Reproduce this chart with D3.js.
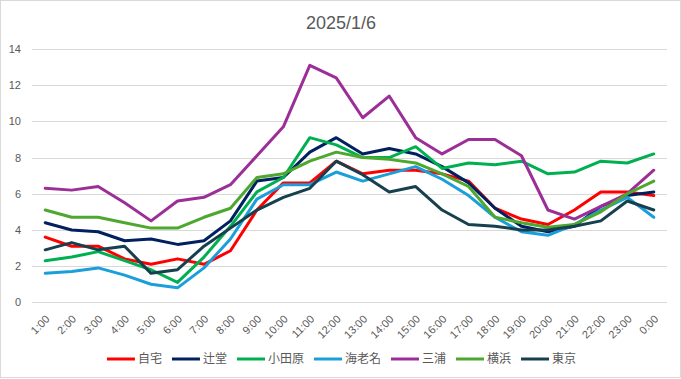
<!DOCTYPE html>
<html><head><meta charset="utf-8">
<script src="https://cdn.jsdelivr.net/npm/d3@7"></script>
<style>
html,body{margin:0;padding:0;background:#fff;}
svg{display:block;}
</style></head>
<body>
<script>
const title = "2025/1/6";
const hours = ["1:00","2:00","3:00","4:00","5:00","6:00","7:00","8:00","9:00","10:00","11:00","12:00","13:00","14:00","15:00","16:00","17:00","18:00","19:00","20:00","21:00","22:00","23:00","0:00"];
const yTicks = [0,2,4,6,8,10,12,14];
const seriesNames = ["自宅","辻堂","小田原","海老名","三浦","横浜","東京"];
const seriesColors = ["#FF0000","#002060","#00B050","#1A9FDB","#9B2F97","#4EA72E","#17404F"];
const jitaku   = [3.6,3.1,3.1,2.4,2.1,2.4,2.1,2.85,5.1,6.6,6.6,7.8,7.1,7.3,7.3,7.1,6.7,5.2,4.6,4.3,5.1,6.1,6.1,5.9];
const tsujido  = [4.4,4.0,3.9,3.4,3.5,3.2,3.4,4.5,6.7,6.9,8.3,9.1,8.2,8.5,8.2,7.5,6.6,5.2,4.2,3.9,4.2,5.3,5.9,6.1];
const odawara  = [2.3,2.5,2.8,2.3,1.8,1.1,2.5,4.2,6.1,6.9,9.1,8.7,8.0,8.0,8.6,7.4,7.7,7.6,7.8,7.1,7.2,7.8,7.7,8.2];
const ebina    = [1.6,1.7,1.9,1.5,1.0,0.8,1.9,3.5,5.7,6.5,6.5,7.2,6.7,7.1,7.5,6.8,5.9,4.7,3.9,3.7,4.3,5.1,5.8,4.7];
const miura    = [6.3,6.2,6.4,5.5,4.5,5.6,5.8,6.5,8.1,9.7,13.1,12.4,10.2,11.4,9.1,8.2,9.0,9.0,8.1,5.1,4.6,5.3,6.0,7.3];
const yokohama = [5.1,4.7,4.7,4.4,4.1,4.1,4.7,5.2,6.9,7.1,7.8,8.3,8.0,7.9,7.7,7.1,6.4,4.7,4.4,4.15,4.3,5.0,6.0,6.7];
const tokyo    = [2.9,3.3,2.9,3.1,1.6,1.8,3.1,4.1,5.1,5.8,6.3,7.8,7.05,6.1,6.4,5.1,4.3,4.2,4.0,4.0,4.2,4.5,5.6,5.1];
const seriesValues = [jitaku,tsujido,odawara,ebina,miura,yokohama,tokyo];

const W = 681, H = 379;
const numFont = "'Liberation Sans', Arial, sans-serif";
const jpFont = "'Noto Sans CJK JP', sans-serif";
const textColor = "#595959";

const svg = d3.select("body").append("svg").attr("width", W).attr("height", H);
svg.append("rect").attr("x",0.5).attr("y",0.5).attr("width",W-1).attr("height",H-2)
  .attr("fill","#fff").attr("stroke","#D9D9D9");

const x = d3.scalePoint().domain(hours).range([32, 667]).padding(0.5);
const y = d3.scaleLinear().domain([0,14]).range([302.3, 49]);

svg.append("text").attr("x", 341).attr("y", 29).attr("text-anchor","middle")
  .attr("font-family", numFont).attr("font-size", 18).attr("fill", textColor).text(title);

// gridlines
svg.append("g").selectAll("line").data(yTicks).join("line")
  .attr("x1",32).attr("x2",667).attr("y1",d=>Math.round(y(d))+0.5).attr("y2",d=>Math.round(y(d))+0.5)
  .attr("stroke","#D9D9D9").attr("stroke-width",1);

// y axis labels
const yAxis = d3.axisLeft(y).tickValues(yTicks).tickSize(0).tickPadding(0);
const gy = svg.append("g").attr("transform","translate(21,0)").call(yAxis);
gy.select(".domain").remove();
gy.selectAll("text").attr("font-family", numFont).attr("font-size", 11).attr("fill", textColor);

// x axis labels
const xAxis = d3.axisBottom(x).tickSize(0).tickPadding(0);
const gx = svg.append("g").attr("transform","translate(0,302)").call(xAxis);
gx.select(".domain").remove();
gx.selectAll("text")
  .attr("font-family", numFont).attr("font-size", 11).attr("fill", textColor)
  .attr("text-anchor","end").attr("dy","0.35em").attr("y",0)
  .attr("transform","translate(2,15) rotate(-45)");

// lines
const line = d3.line().x((d,i)=>x(hours[i])).y(d=>y(d));
svg.append("g").selectAll("path").data(seriesValues).join("path")
  .attr("d", line).attr("fill","none")
  .attr("stroke",(d,i)=>seriesColors[i]).attr("stroke-width",3)
  .attr("stroke-linejoin","round").attr("stroke-linecap","round");

// legend
const lg = svg.append("g");
const lineLen = 28, gap = 3, spacing = 10, ly = 359;
let cx = 0;
seriesNames.forEach((n,i)=>{
  const g = lg.append("g");
  g.append("line").attr("x1",0).attr("x2",lineLen).attr("y1",0).attr("y2",0)
    .attr("stroke",seriesColors[i]).attr("stroke-width",3);
  const t = g.append("text").attr("x",lineLen+gap).attr("y",0).attr("dy","0.36em")
    .attr("font-family",jpFont).attr("font-size",12).attr("fill",textColor).text(n);
  const w = lineLen+gap+t.node().getComputedTextLength();
  g.attr("transform",`translate(${cx},${ly})`);
  cx += w + spacing;
});
const total = cx - spacing;
lg.attr("transform",`translate(${341.5 - total/2},0)`);
</script>
</body></html>
